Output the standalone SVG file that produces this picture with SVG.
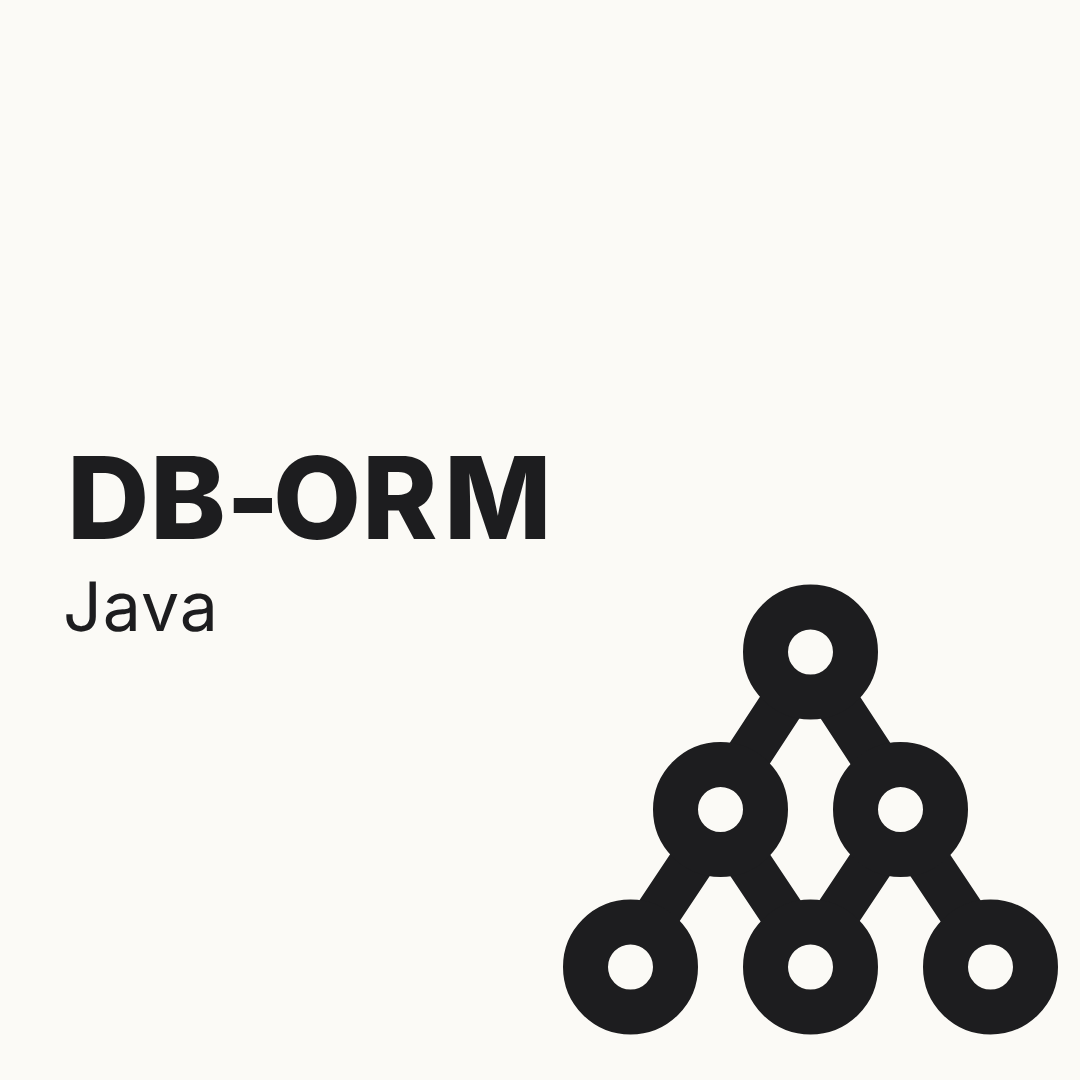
<svg xmlns="http://www.w3.org/2000/svg" width="1080" height="1080" viewBox="0 0 1080 1080" text-rendering="geometricPrecision" shape-rendering="geometricPrecision">
<style>
.t{font-family:"Inter","Liberation Sans",Arial,sans-serif;fill:#1d1d1f}
.n{fill:#fbfaf6;stroke:#1d1d1f;stroke-width:45}
.c{stroke:#1d1d1f;stroke-width:45;fill:none}
</style>
<rect width="1080" height="1080" fill="#fbfaf6"/>
<text class="t" y="539" font-size="114" font-weight="800" x="67 150 226 273 362 444">DB-ORM</text>
<text class="t" x="63" y="631" font-size="68" textLength="155" lengthAdjust="spacing">Java</text>
<g id="connectors">
<path class="c" d="M784 701L746 759M836 701L874 759M694 859L656 916M746 859L784 916M874 859L836 916M926 859L964 916"/>
</g>
<g id="n1"><circle class="n" cx="810.500" cy="652" r="45"/></g>
<g id="n2"><circle class="n" cx="720.500" cy="809.500" r="45"/></g>
<g id="n3"><circle class="n" cx="900.500" cy="809.500" r="45"/></g>
<g id="n4"><circle class="n" cx="630.500" cy="967" r="45"/></g>
<g id="n5"><circle class="n" cx="810.500" cy="967" r="45"/></g>
<g id="n6"><circle class="n" cx="990.500" cy="967" r="45"/></g>
</svg>
